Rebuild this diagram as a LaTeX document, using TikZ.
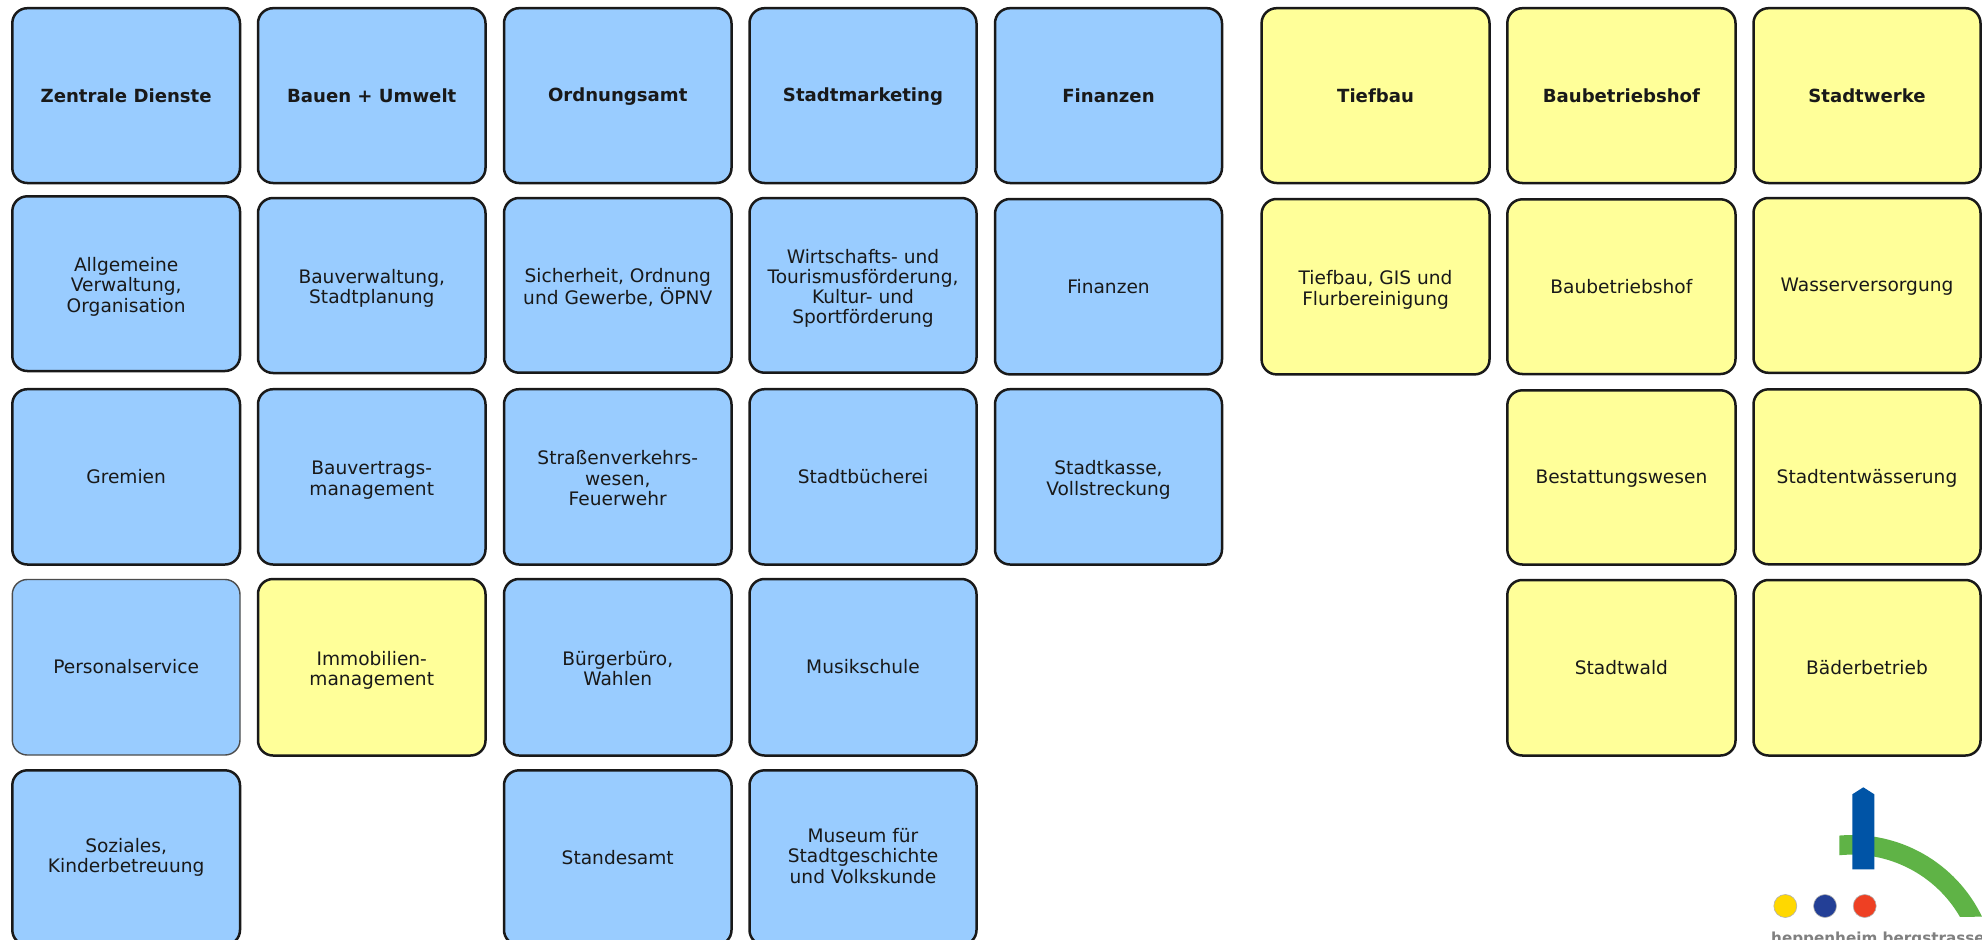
\documentclass[tikz,border=0pt]{standalone}
\usepackage{fontspec}
\usetikzlibrary{calc}
\setmainfont{DejaVu Sans}
\definecolor{bluefill}{HTML}{99CCFF}
\definecolor{yellowfill}{HTML}{FFFF99}
\definecolor{logogreen}{HTML}{5FB346}
\definecolor{logoblue}{HTML}{0054A6}
\definecolor{dotyellow}{HTML}{FFD800}
\definecolor{dotblue}{HTML}{233F96}
\definecolor{dotred}{HTML}{EE4023}
\definecolor{logotext}{HTML}{808080}
\tikzset{
  cellbox/.style={rounded corners=15pt,draw=black!90,line width=2.5pt,align=center,
    inner sep=0pt,outer sep=0pt,font=\fontsize{18.6}{20.3}\selectfont,text=black!90,
    execute at begin node={\rule[-3.65pt]{0pt}{20.3pt}},
    execute at end node={\rule[-3.65pt]{0pt}{20.3pt}}},
  bluebox/.style={cellbox,fill=bluefill},
  yellowbox/.style={cellbox,fill=yellowfill},
  headtext/.style={font=\fontsize{18.1}{20.3}\selectfont\bfseries},
}
\newcommand{\cell}[7]{% name style x0 y0 x1 y1 text
  \node[#2,minimum width=#5pt-#3pt,minimum height=#6pt-#4pt,anchor=north west] (#1) at (#3,#4) {#7};}
\newcommand{\mcell}[7]{\cell{#1}{#2}{#3}{#4}{#5}{#6}{\rule{0pt}{20.25pt}#7}}
\begin{document}
\begin{tikzpicture}[x=1pt,y=-1pt]
\useasboundingbox (0,0) rectangle (1982,940);
\clip (0,0) rectangle (1982,940);
\fill[white] (0,0) rectangle (1982,940);
% column 1
\cell{a0}{bluebox,headtext}{12.3}{8.2}{240}{183}{Zentrale Dienste}
\mcell{a1}{bluebox}{12.3}{196.3}{240}{371}{Allgemeine\\Verwaltung,\\Organisation}
\cell{a2}{bluebox}{12.3}{389.2}{240}{564.5}{Gremien}
\cell{a3}{bluebox,draw=black!70,line width=1.4pt}{12.3}{579.5}{240}{755}{Personalservice}
\cell{a4}{bluebox}{12.3}{770.3}{240}{945}{Soziales,\\Kinderbetreuung}
% column 2
\cell{b0}{bluebox,headtext}{258}{8.2}{485.5}{183}{Bauen + Umwelt}
\mcell{b1}{bluebox}{258}{198}{485.5}{373}{Bauverwaltung,\\Stadtplanung}
\mcell{b2}{bluebox}{258}{389.2}{485.5}{564.5}{Bauvertrags-\\management}
\mcell{b3}{yellowbox}{258}{579}{485.5}{755.5}{Immobilien-\\management}
% column 3
\cell{c0}{bluebox,headtext}{504}{8.2}{731.5}{183}{Ordnungsamt}
\mcell{c1}{bluebox}{504}{198}{731.5}{372.7}{Sicherheit, Ordnung\\und Gewerbe, ÖPNV}
\mcell{c2}{bluebox}{504}{389.2}{731.5}{564.5}{Straßenverkehrs-\\wesen,\\Feuerwehr}
\mcell{c3}{bluebox}{504}{579}{731.5}{755.5}{Bürgerbüro,\\Wahlen}
\cell{c4}{bluebox}{504}{770.3}{731.5}{945}{Standesamt}
% column 4
\cell{d0}{bluebox,headtext}{749.5}{8.2}{976.5}{183}{Stadtmarketing}
\mcell{d1}{bluebox}{749.5}{198}{976.5}{372.7}{Wirtschafts- und\\Tourismusförderung,\\Kultur- und\\Sportförderung}
\cell{d2}{bluebox}{749.5}{389.2}{976.5}{564.5}{Stadtbücherei}
\cell{d3}{bluebox}{749.5}{579}{976.5}{755.5}{Musikschule}
\cell{d4}{bluebox}{749.5}{770.3}{976.5}{945}{Museum für\\Stadtgeschichte\\und Volkskunde}
% column 5
\cell{e0}{bluebox,headtext}{995}{8.2}{1222}{183}{Finanzen}
\cell{e1}{bluebox}{995}{199}{1222}{374.4}{Finanzen}
\mcell{e2}{bluebox}{995}{389.2}{1222}{564.5}{Stadtkasse,\\Vollstreckung}
% column 6
\cell{f0}{yellowbox,headtext}{1261.6}{8.2}{1489.5}{183}{Tiefbau}
\mcell{f1}{yellowbox}{1261.6}{199}{1489.5}{374.4}{Tiefbau, GIS und\\Flurbereinigung}
% column 7
\cell{g0}{yellowbox,headtext}{1507.3}{8.2}{1735.5}{183}{Baubetriebshof}
\cell{g1}{yellowbox}{1507.3}{199.3}{1735.5}{374}{Baubetriebshof}
\cell{g2}{yellowbox}{1507.3}{390.3}{1735.5}{564.5}{Bestattungswesen}
\cell{g3}{yellowbox}{1507.3}{580}{1735.5}{755.5}{Stadtwald}
% column 8
\cell{h0}{yellowbox,headtext}{1753.5}{8.2}{1980.5}{183}{Stadtwerke}
\cell{h1}{yellowbox}{1753.5}{198}{1980.5}{372.8}{Wasserversorgung}
\cell{h2}{yellowbox}{1753.5}{389.3}{1980.5}{564.3}{Stadtentwässerung}
\cell{h3}{yellowbox}{1753.5}{580}{1980.5}{755.5}{Bäderbetrieb}
% logo
\coordinate (arcc) at (1852,979.3);
\fill[logogreen] ($(arcc)+(-95.05:144.3)$) arc[start angle=-95.05,end angle=-25.7,radius=144.3]
  -- ($(arcc)+(-30.1:124.7)$) arc[start angle=-30.1,end angle=-95.85,radius=124.7] -- cycle;
\fill[logoblue] (1852.3,869.3) -- (1852.3,794.3) -- (1863.3,787.3) -- (1874.3,794.3) -- (1874.3,869.3) -- cycle;
\fill[dotyellow,draw=gray!60,line width=.6pt] (1785.3,906) circle (11.5);
\fill[dotblue,draw=gray!60,line width=.6pt] (1825,906) circle (11.5);
\fill[dotred,draw=gray!60,line width=.6pt] (1864.7,906) circle (11.5);
\node[anchor=base west,inner sep=0pt,text=logotext,font=\fontsize{15.2}{18}\selectfont\bfseries] (logo) at (1771,943) {heppenheim bergstrasse};
\end{tikzpicture}
\end{document}
